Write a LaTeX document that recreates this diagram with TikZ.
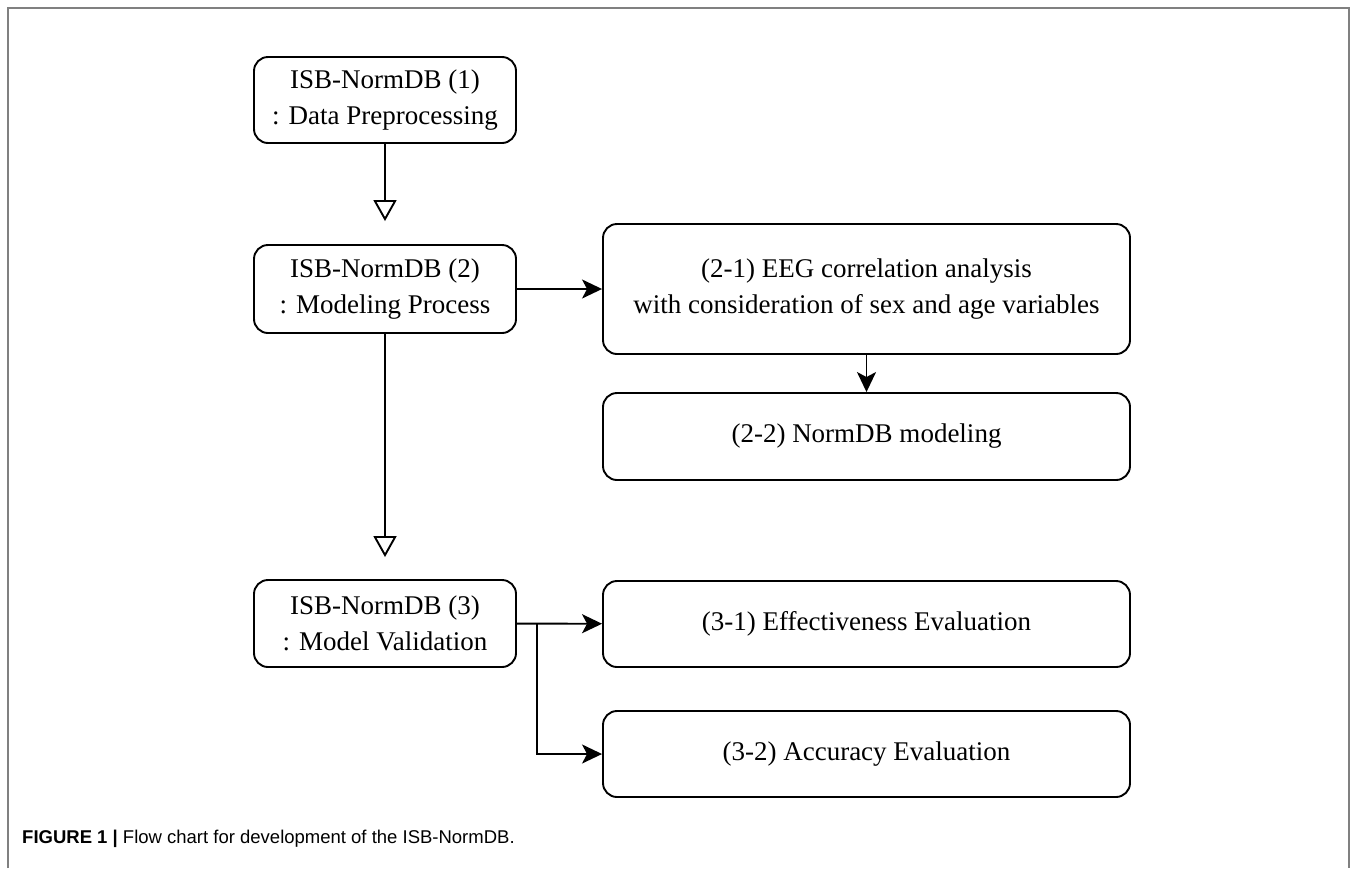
\documentclass[tikz,border=0pt]{standalone}
\usepackage{fontspec}
\setmainfont{Liberation Serif}
\newfontfamily\capfont{Liberation Sans}
\usetikzlibrary{arrows.meta}
\begin{document}
\begin{tikzpicture}[x=1pt,y=-1pt,
  box/.style={draw, line width=1.9pt, rounded corners=14pt, align=center,
    font=\fontsize{27}{36}\selectfont, inner sep=0pt},
  lbox/.style={box, minimum width=262pt},
  rbox/.style={box, minimum width=527pt},
  hollow/.style={line width=1.9pt, -{Triangle[open, length=21pt, width=23pt, line width=1.9pt]}},
  solid/.style={line width=1.9pt, -{Stealth[length=20pt, width=19pt, inset=5pt]}}]
\useasboundingbox (0,0) rectangle (1357,868);
\draw[line width=1.5pt, gray] (8,868) -- (8,8) -- (1349,8) -- (1349,868);

\node[lbox, minimum height=86pt] (b1) at (385,100) {ISB-NormDB (1)\\: Data Preprocessing};
\node[lbox, minimum height=88pt] (b2) at (385,289) {ISB-NormDB (2)\\: Modeling Process};
\node[lbox, minimum height=87pt] (b3) at (385,623.5) {ISB-NormDB (3)\\: Model Validation};
\node[rbox, minimum height=130pt] (b21) at (866.5,289) {(2-1) EEG correlation analysis\\with consideration of sex and age variables};
\node[rbox, minimum height=87pt] (b22) at (866.5,436.5) {(2-2) NormDB modeling};
\node[rbox, minimum height=86pt] (b31) at (866.5,624) {(3-1) Effectiveness Evaluation};
\node[rbox, minimum height=86pt] (b32) at (866.5,754) {(3-2) Accuracy Evaluation};

\draw[hollow, shorten >=23pt] (b1) -- (b2);
\draw[hollow, shorten >=22pt] (b2) -- (b3);
\draw[solid] (b2) -- (b21);
\draw[solid] (b21) -- (b22);
\draw[solid] (b3) -- (b31);
\coordinate (br) at (537,624);
\draw[solid] (br) |- (b32.west);

\node[anchor=west, font=\capfont\fontsize{18.5}{22}\selectfont, inner sep=0pt] (cap) at (22,839)
  {\textbf{FIGURE 1 |} Flow chart for development of the ISB-NormDB.};
\end{tikzpicture}
\end{document}
